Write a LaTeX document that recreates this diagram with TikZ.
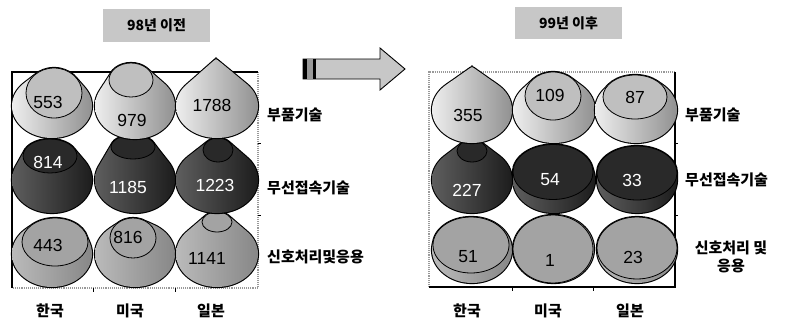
\documentclass[tikz,border=0pt]{standalone}
\usepackage{fontspec}
\setmainfont{Liberation Sans}
\newfontfamily\kr{Noto Sans CJK KR}
\tikzset{
  Lside/.style={left color=black!5, right color=black!45},
  Ltop/.style={fill=black!25},
  Dside/.style={left color=black!62, right color=black!90},
  Dtop/.style={fill=black!84},
  Mside/.style={left color=black!26, right color=black!48},
  Mtop/.style={fill=black!36},
  num/.style={font=\fontsize{17.5}{17.5}\selectfont, inner sep=0pt},
  wnum/.style={num, text=white},
  lab/.style={font=\kr\bfseries\fontsize{15}{17.5}\selectfont, inner sep=0pt},
  ttl/.style={font=\kr\bfseries\fontsize{14}{15}\selectfont, inner sep=0pt},
  frameblack/.style={line width=1.1pt, black},
  framegray/.style={line width=1.1pt, black!40, densely dotted},
}
\newcommand\cone[9]{%
  \draw[line width=2.2pt] \foreach \i in {0,...,32}{({#1+\i/32*(#5-#1)},{#2+\i/32*(#6-#2)}) ellipse ({#3+\i/32*(#7-#3)} and {#4+\i/32*(#8-#4)})};
  \begin{scope}
    \clip \foreach \i in {0,...,32}{({#1+\i/32*(#5-#1)},{#2+\i/32*(#6-#2)}) ellipse ({#3+\i/32*(#7-#3)} and {#4+\i/32*(#8-#4)})};
    \shade[#9side] ({#1-#3-4},{#6-#8-4}) rectangle ({#1+#3+4},{#2+#4+4});
  \end{scope}
  \ifdim #7pt<1pt\relax\else
    \filldraw[#9top, draw=black, line width=0.8pt] (#5,#6) ellipse (#7 and #8);
  \fi
}
\begin{document}
\begin{tikzpicture}[x=1pt,y=-1pt]
\useasboundingbox (0,0) rectangle (792,324);

% titles
\node[draw=none, fill=black!22, minimum width=107pt, minimum height=33pt, inner sep=0pt] (t1) at (156.5,25) {};
\node[ttl] (t1txt) at (t1.center) {98년 이전};
\node[draw=none, fill=black!22, minimum width=107pt, minimum height=32pt, inner sep=0pt] (t2) at (568.5,23) {};
\node[ttl] (t2txt) at (t2.center) {99년 이후};

% arrow
\filldraw[fill=black!22, draw=black, line width=0.9pt]
  (303,59) -- (380,59) -- (380,48) -- (405,69) -- (380,90) -- (380,79) -- (303,79) -- cycle;
\fill[black] (303,59) rectangle (307,79);
\fill[black!40] (307,59) rectangle (312.5,79);
\fill[black] (312.5,59) rectangle (316,79);

% ---------- left chart ----------
\draw[framegray] (258,72) -- (258,288) -- (12,288);
\draw[frameblack] (12,288) -- (12,72) -- (258,72);
\draw[line width=0.8pt] (258,143) -- (261,143) (258,215) -- (261,215);
\draw[line width=0.8pt] (93,288) -- (93,292) (175,288) -- (175,292);

% row 3
\cone{52}{254}{40}{33}{55}{242}{33}{24}{M}
\cone{135}{254}{40}{33}{133}{238}{23}{20}{M}
\cone{217}{254}{41}{33}{217}{222}{15}{10}{M}
% row 2
\cone{52}{180}{40}{33}{50}{156}{27}{17}{D}
\cone{135}{180}{40}{33}{133}{147}{22}{12}{D}
\cone{217}{180}{41}{33}{218}{150}{15}{12}{D}
% row 1
\cone{52}{106}{40}{32}{54}{93}{28}{25}{L}
\cone{135}{106}{40}{33}{131}{80}{22}{17}{L}
\cone{217}{106}{41}{32}{216}{59}{0.3}{0.3}{L}

\node[num] (a11) at (48,102) {553};
\node[num] (a12) at (132,120) {979};
\node[num] (a13) at (212,105) {1788};
\node[wnum] (a21) at (48,162) {814};
\node[wnum] (a22) at (128,187) {1185};
\node[wnum] (a23) at (215,185) {1223};
\node[num] (a31) at (48,245) {443};
\node[num] (a32) at (128,237) {816};
\node[num] (a33) at (207,258) {1141};

\node[lab, anchor=west] (ar1) at (267,115) {부품기술};
\node[lab, anchor=west] (ar2) at (267,188) {무선접속기술};
\node[lab, anchor=west] (ar3) at (267,257) {신호처리및응용};
\node[lab] (ac1) at (50,311) {한국};
\node[lab] (ac2) at (130,311) {미국};
\node[lab] (ac3) at (211,311) {일본};

% ---------- right chart ----------
\draw[framegray] (429,287) -- (429,72) -- (675,72);
\draw[frameblack] (675,72) -- (675,287) -- (429,287);
\draw[line width=0.8pt] (675,143) -- (678,143) (675,215) -- (678,215);
\draw[line width=0.8pt] (512,287) -- (512,291) (593,287) -- (593,291);

% row 3
\cone{472}{250}{40}{33}{471}{245}{38}{28}{M}
\cone{554}{249}{40}{34}{553}{249}{40}{34}{M}
\cone{637}{250}{40}{33}{637}{248}{40}{31}{M}
% row 2
\cone{472}{180}{40}{33}{472}{151}{15}{11}{D}
\cone{554}{180}{41}{33}{553}{172}{40}{27.5}{D}
\cone{637}{180}{40}{33}{637}{173}{40}{27}{D}
% row 1
\cone{472}{110}{40}{33}{472}{67}{0.3}{0.3}{L}
\cone{554}{110}{41}{33}{553}{96}{28}{24}{L}
\cone{636}{110}{41}{33}{635}{97}{32}{22}{L}

\node[num] (b11) at (468,115) {355};
\node[num] (b12) at (550,95) {109};
\node[num] (b13) at (635,97) {87};
\node[wnum] (b21) at (467,190) {227};
\node[wnum] (b22) at (550,180) {54};
\node[wnum] (b23) at (632,180) {33};
\node[num] (b31) at (468,257) {51};
\node[num] (b32) at (550,260) {1};
\node[num] (b33) at (633,257) {23};

\node[lab, anchor=west] (br1) at (685,115) {부품기술};
\node[lab, anchor=west] (br2) at (685,180) {무선접속기술};
\node[lab, align=center] (br3) at (731,257) {신호처리 및\\응용};
\node[lab] (bc1) at (467,311) {한국};
\node[lab] (bc2) at (548,311) {미국};
\node[lab] (bc3) at (630,311) {일본};
\end{tikzpicture}
\end{document}
